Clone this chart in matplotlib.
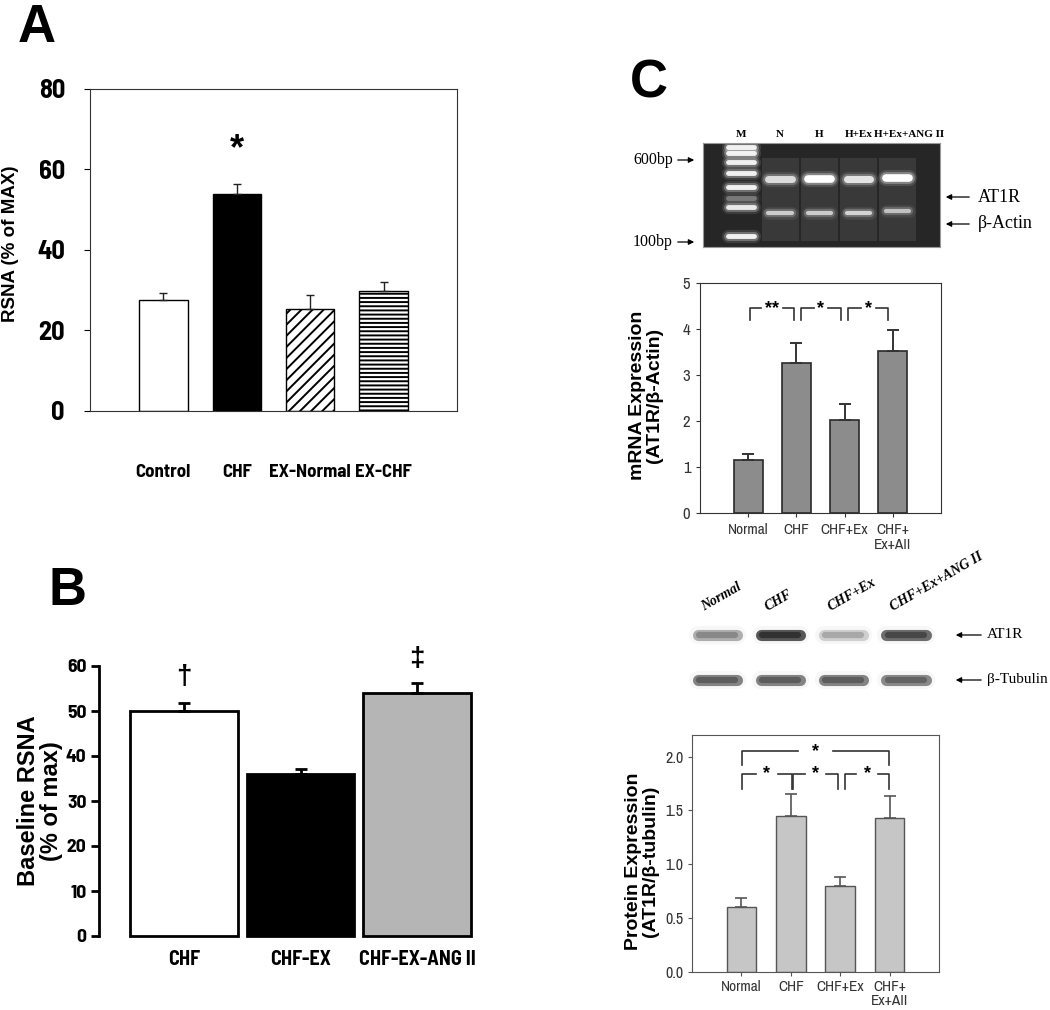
import numpy as np
import matplotlib.pyplot as plt

W, H = 1050, 1010

# panel A: RSNA (% of MAX)
a_groups = ['Control', 'CHF', 'EX-Normal', 'EX-CHF']
a_rsna = [27.6, 53.8, 25.3, 29.9]
a_err = [1.6, 2.6, 3.5, 2.1]

# panel B: baseline RSNA
b_groups = ['CHF', 'CHF-EX', 'CHF-EX-ANG II']
b_rsna = [50.0, 36.0, 54.0]
b_err = [1.7, 1.1, 2.3]

# panel C: bar charts
c_groups = ['Normal', 'CHF', 'CHF+Ex', 'CHF+\nEx+AII']
mrna = [1.16, 3.27, 2.03, 3.53]
mrna_err = [0.12, 0.42, 0.34, 0.44]
protein = [0.60, 1.45, 0.80, 1.43]
protein_err = [0.09, 0.20, 0.08, 0.20]

# panel C: RT-PCR gel (band position in % of gel height, relative intensity)
gel_lanes = ['M', 'N', 'H', 'H+Ex', 'H+Ex+ANG II']
ladder_pos = [4, 10, 18, 29, 42, 53, 62, 89]
ladder_int = [0.9, 0.9, 0.9, 0.9, 0.9, 0.3, 0.85, 0.9]
at1r_gel = [0.75, 1.0, 0.8, 1.0]
at1r_gel_pos = [35, 35, 35, 34]
actin_gel = [0.65, 0.65, 0.7, 0.6]
actin_gel_pos = [67, 67, 67, 65]

# panel C: western blot (band darkness)
blot_lanes = ['Normal', 'CHF', 'CHF+Ex', 'CHF+Ex+ANG II']
at1r_blot = [0.55, 0.95, 0.4, 0.85]
tubulin_blot = [0.75, 0.75, 0.75, 0.72]

NARROW = ['Archivo Narrow', 'Liberation Sans', 'DejaVu Sans']
NARROWB = ['Barlow Semi Condensed', 'Archivo Narrow', 'Liberation Sans', 'DejaVu Sans']
ARIAL = ['Liberation Sans', 'DejaVu Sans']
SERIF = ['Liberation Serif', 'DejaVu Serif']


def rect(x0, y0, x1, y1):
    return [x0 / W, 1 - y1 / H, (x1 - x0) / W, (y1 - y0) / H]


def fp(x, y):
    return (x / W, 1 - y / H)


def bracket(ax, x1, x2, y, drop, text, gap=0.22, fs=13):
    mid = (x1 + x2) / 2
    ax.plot([x1, x1, mid - gap], [y - drop, y, y], color='#333', lw=1.2)
    ax.plot([mid + gap, x2, x2], [y, y, y - drop], color='#333', lw=1.2)
    ax.text(mid, y, text, ha='center', va='center', fontsize=fs,
            fontweight='bold', family=ARIAL)


def gel_band(ax, x, y, w, inten, lw=4):
    for extra, a in [(6, 0.12), (3, 0.3), (0, 1.0)]:
        ax.plot([x - w / 2, x + w / 2], [y, y], color='white',
                alpha=a * inten, lw=lw + extra, solid_capstyle='round')


def blot_band(ax, x, y, w, dark):
    g = 1 - 0.85 * dark
    ax.plot([x - w / 2, x + w / 2], [y, y], color=(0.97, 0.97, 0.97),
            lw=13, solid_capstyle='round')
    ax.plot([x - w / 2, x + w / 2], [y, y], color=(g + 0.15, g + 0.15, g + 0.15),
            lw=8, solid_capstyle='round')
    ax.plot([x - w / 2 + 0.03, x + w / 2 - 0.03], [y, y], color=(g, g, g),
            lw=4.5, solid_capstyle='round')


fig = plt.figure(figsize=(W / 100, H / 100), dpi=100)

# ---------------- A ----------------
axA = fig.add_axes(rect(90, 89, 457, 411))
plt.rcParams['hatch.linewidth'] = 1.4
xa = np.arange(1, 5)
axA.bar(xa, a_rsna, 0.66, color=['white', 'black', 'white', 'white'],
        edgecolor='black', lw=1, hatch=['', '', '///', '----'])
axA.errorbar(xa, a_rsna, yerr=[np.zeros(4), a_err], fmt='none', ecolor='#222',
             elinewidth=1, capsize=3)
axA.set_xlim(0, 5)
axA.set_ylim(0, 80)
axA.set_yticks(range(0, 81, 20))
axA.set_yticklabels([str(v) for v in range(0, 81, 20)], family=NARROWB,
                    fontweight='bold', fontsize=19)
axA.tick_params(axis='y', direction='out', length=4, pad=14)
axA.set_xticks(xa)
axA.set_xticklabels(a_groups, family=NARROWB, fontweight='bold', fontsize=13.5)
axA.tick_params(axis='x', length=0, pad=38)
for s in axA.spines.values():
    s.set_color('#333')
axA.text(2, 65, '*', ha='center', va='center', fontsize=26, fontweight='bold',
         family=ARIAL)
fig.text(*fp(11, 244), 'RSNA (% of MAX)', rotation=90, ha='center', va='center',
         fontsize=13.5, fontweight='bold', family=ARIAL)
fig.text(*fp(18, 42), 'A', fontsize=38, fontweight='bold', family=ARIAL)

# ---------------- B ----------------
axB = fig.add_axes(rect(99, 666, 480, 936))
xb = np.arange(3)
axB.bar(xb, b_rsna, 0.92, color=['white', 'black', '#b5b5b5'],
        edgecolor='black', lw=2, clip_on=False)
axB.errorbar(xb, b_rsna, yerr=[np.zeros(3), b_err], fmt='none', ecolor='black',
             elinewidth=2, capsize=4, capthick=2, clip_on=False)
axB.set_xlim(-0.73, 2.54)
axB.set_ylim(0, 60)
for k in ['top', 'right', 'bottom']:
    axB.spines[k].set_visible(False)
axB.spines['left'].set_linewidth(2)
axB.set_yticks(range(0, 61, 10))
axB.set_yticklabels([str(v) for v in range(0, 61, 10)], family=NARROWB,
                    fontweight='bold', fontsize=14)
axB.tick_params(axis='y', direction='out', length=6, width=2, pad=3)
axB.set_xticks(xb)
axB.set_xticklabels(b_groups, family=NARROWB, fontweight='bold', fontsize=14.5)
axB.tick_params(axis='x', length=0, pad=10)
axB.text(0, 57.5, '\u2020', ha='center', va='center', fontsize=20,
         fontweight='bold', family=ARIAL)
axB.text(2, 61.5, '\u2021', ha='center', va='center', fontsize=20,
         fontweight='bold', family=ARIAL)
fig.text(*fp(40, 801), 'Baseline RSNA\n(% of max)', rotation=90, ha='center',
         va='center', fontsize=17, fontweight='bold', family=ARIAL,
         linespacing=1.0)
fig.text(*fp(48, 605), 'B', fontsize=38, fontweight='bold', family=ARIAL)

# ---------------- C ----------------
fig.text(*fp(630, 98), 'C', fontsize=38, fontweight='bold', family=ARIAL)

# gel
axG = fig.add_axes(rect(703, 143, 940, 247))
axG.set_facecolor('#262626')
axG.set_xlim(-0.97, 5.08)
axG.set_ylim(100, 0)
axG.set_xticks([])
axG.set_yticks([])
for s in axG.spines.values():
    s.set_color('#999')
    s.set_linewidth(0.8)
xs = np.arange(1, 5)
axG.bar(xs, 80, bottom=14, width=0.95, color='#393939', zorder=0)
for y, v in zip(ladder_pos, ladder_int):
    gel_band(axG, 0, y, 0.65, v, lw=3.5)
for i in range(4):
    gel_band(axG, xs[i], at1r_gel_pos[i], 0.6, at1r_gel[i], lw=3.5 + 2 * at1r_gel[i])
    gel_band(axG, xs[i], actin_gel_pos[i], 0.6, actin_gel[i], lw=3)
for i, lab in enumerate(gel_lanes):
    axG.text(i + (0.28 if i == 4 else 0), -4, lab, ha='center', va='bottom',
             family=SERIF, fontweight='bold', fontsize=8)
arrow = dict(arrowstyle='-|>', lw=0.9, color='black', mutation_scale=8)
for lab, y in [('600bp', 160), ('100bp', 242)]:
    fig.text(*fp(633, y), lab, va='center', ha='left', family=SERIF, fontsize=11.5)
    axG.annotate('', xy=fp(697, y), xycoords='figure fraction', xytext=fp(675, y),
                 textcoords='figure fraction', arrowprops=arrow)
for lab, y in [('AT1R', 197), ('\u03b2-Actin', 224)]:
    fig.text(*fp(978, y), lab, va='center', ha='left', family=SERIF, fontsize=13)
    axG.annotate('', xy=fp(943, y), xycoords='figure fraction', xytext=fp(972, y),
                 textcoords='figure fraction', arrowprops=arrow)

# mRNA bar chart
axM = fig.add_axes(rect(700, 283, 941, 513))
xc = np.arange(1, 5)
axM.bar(xc, mrna, 0.6, color='#8c8c8c', edgecolor='#2a2a2a', lw=1.2)
axM.errorbar(xc, mrna, yerr=[np.zeros(4), mrna_err], fmt='none', ecolor='#333',
             elinewidth=1.4, capsize=4, capthick=1.4)
axM.set_xlim(0, 5)
axM.set_ylim(0, 5)
axM.set_yticks(range(6))
axM.set_yticklabels([str(v) for v in range(6)], family=NARROW, fontsize=12,
                    color='#333')
axM.set_xticks(xc)
axM.set_xticklabels(c_groups, family=NARROW, fontsize=11, color='#333',
                    linespacing=1.1)
axM.tick_params(direction='out', length=3, color='#333', pad=4)
for s in axM.spines.values():
    s.set_color('#333')
bracket(axM, 1.04, 1.95, 4.45, 0.25, '**')
bracket(axM, 2.09, 2.92, 4.45, 0.25, '*', gap=0.15)
bracket(axM, 3.08, 3.91, 4.45, 0.25, '*', gap=0.15)
fig.text(*fp(646, 395), 'mRNA Expression\n(AT1R/\u03b2-Actin)', rotation=90,
         ha='center', va='center', fontsize=14, fontweight='bold', family=ARIAL,
         linespacing=1.0)

# western blot
axW = fig.add_axes(rect(685, 615, 940, 700))
axW.set_xlim(-0.51, 3.54)
axW.set_ylim(1.45, -0.45)
axW.axis('off')
for i in range(4):
    blot_band(axW, i, 0, 0.62, at1r_blot[i])
    blot_band(axW, i, 1, 0.62, tubulin_blot[i])
    axW.text(i - 0.2, -0.55, blot_lanes[i], rotation=30, rotation_mode='anchor',
             ha='left', va='baseline', family=SERIF, style='italic',
             fontweight='bold', fontsize=10)
for lab, y in [('AT1R', 635), ('\u03b2-Tubulin', 680)]:
    fig.text(*fp(987, y), lab, va='center', ha='left', family=SERIF, fontsize=11)
    axW.annotate('', xy=fp(953, y), xycoords='figure fraction', xytext=fp(984, y),
                 textcoords='figure fraction', arrowprops=arrow)

# protein bar chart
axP = fig.add_axes(rect(692, 735, 939, 972))
axP.bar(xc, protein, 0.6, color='#c6c6c6', edgecolor='#555', lw=1)
axP.errorbar(xc, protein, yerr=[np.zeros(4), protein_err], fmt='none',
             ecolor='#555', elinewidth=1.2, capsize=4, capthick=1.2)
axP.set_xlim(0, 5)
axP.set_ylim(0, 2.2)
pt = [0.0, 0.5, 1.0, 1.5, 2.0]
axP.set_yticks(pt)
axP.set_yticklabels(['%.1f' % v for v in pt], family=NARROW, fontsize=11.5,
                    color='#333')
axP.set_xticks(xc)
axP.set_xticklabels(c_groups, family=NARROW, fontsize=11, color='#333',
                    linespacing=1.0)
axP.tick_params(direction='out', length=3, color='#555', pad=3)
for s in axP.spines.values():
    s.set_color('#555')
bracket(axP, 1.01, 3.99, 2.05, 0.13, '*', gap=0.35)
bracket(axP, 1.01, 2.02, 1.84, 0.14, '*', gap=0.22)
bracket(axP, 2.04, 2.96, 1.84, 0.14, '*', gap=0.22)
bracket(axP, 3.10, 3.99, 1.84, 0.14, '*', gap=0.22)
fig.text(*fp(642, 861), 'Protein Expression\n(AT1R/\u03b2-tubulin)', rotation=90,
         ha='center', va='center', fontsize=14, fontweight='bold', family=ARIAL,
         linespacing=1.0)

fig.savefig('out.png', dpi=100, facecolor='white')
